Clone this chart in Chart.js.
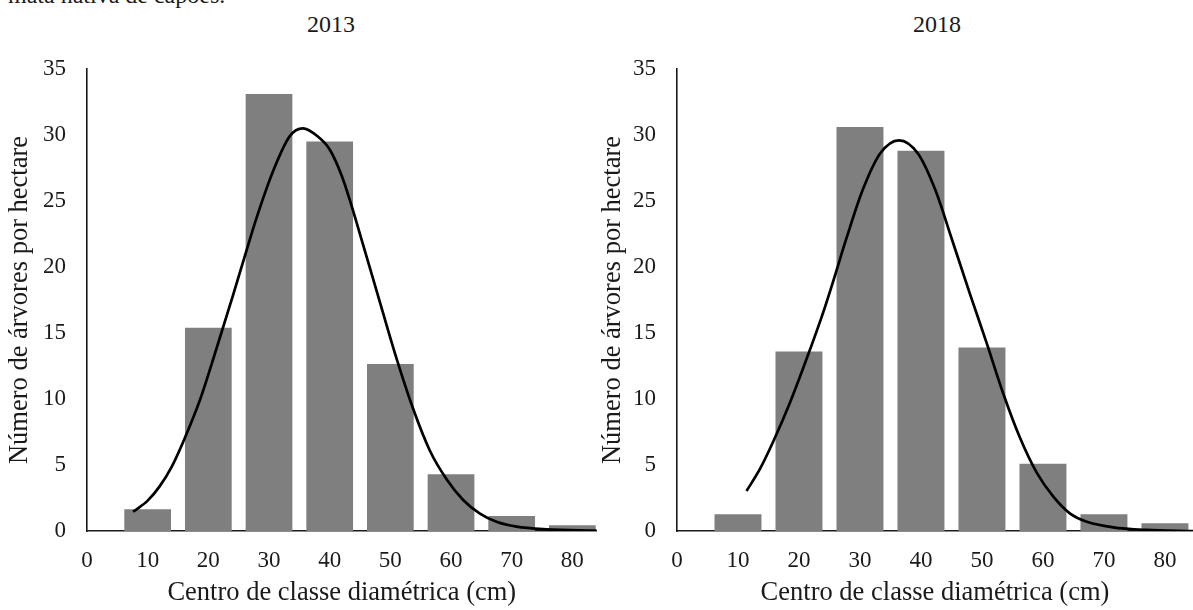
<!DOCTYPE html>
<html>
<head>
<meta charset="utf-8">
<script src="https://cdn.jsdelivr.net/npm/chart.js@4"></script>
<style>
    html, body { margin: 0; padding: 0; background: #fff; overflow: hidden; }
    body { width: 1193px; height: 610px; position: relative; font-family: 'Liberation Serif', serif; color: #1a1a1a; }
    .panel { position: absolute; top: 0; width: 600px; height: 610px; }
    .year { position: absolute; top: 10px; font-size: 24px; line-height: 28px; width: 100px; text-align: center; }
    .caption { position: absolute; left: 8px; top: -19px; font-size: 24px; line-height: 28px; white-space: nowrap; }
</style>
</head>
<body>
<div class="caption">mata nativa de capões.</div>
<div class="year" style="left: 281px;">2013</div>
<div class="year" style="left: 887px;">2018</div>
<div class="panel" style="left: 0px;"><canvas id="cv-2013"></canvas></div>
<div class="panel" style="left: 593px;"><canvas id="cv-2018"></canvas></div>
<script>
// diameter class centres (cm) and trees per hectare
const classes = [10, 20, 30, 40, 50, 60, 70, 80];
const trees2013 = [1.64, 15.4, 33.1, 29.5, 12.65, 4.3, 1.14, 0.43];
const trees2018 = [1.26, 13.6, 30.6, 28.8, 13.9, 5.1, 1.26, 0.58];

// fitted curves
const curveX2013 = [7.6, 10.0, 12.0, 14.0, 15.9, 18.6, 21.4, 24.1, 25.8, 28.0, 30.7, 33.4, 35.6, 38.0, 40.0, 42.0, 43.3, 45.5, 48.3, 51.0, 53.8, 56.5, 59.3, 62.0, 64.7, 67.5, 70.8, 75.7, 84.0];
const curveY2013 = [1.46, 2.3, 3.4, 4.9, 6.8, 9.9, 13.9, 17.9, 20.5, 23.8, 27.3, 29.9, 30.5, 29.9, 28.9, 26.9, 25.1, 21.7, 17.3, 13.1, 9.2, 6.1, 3.9, 2.35, 1.34, 0.7, 0.33, 0.13, 0.03];
const curveX2018 = [11.4, 13.6, 15.8, 18.5, 21.3, 24.0, 25.6, 27.8, 30.5, 33.3, 36.4, 39.5, 42.3, 45.0, 48.0, 50.8, 53.5, 56.2, 59.0, 61.7, 64.4, 67.2, 71.5, 77.0, 84.6];
const curveY2018 = [3.03, 4.7, 6.8, 9.7, 13.1, 16.6, 18.9, 22.2, 25.9, 28.6, 29.6, 28.6, 25.9, 22.2, 18.0, 14.2, 10.4, 7.1, 4.4, 2.6, 1.34, 0.7, 0.28, 0.08, 0];

const xTicks = [0, 10, 20, 30, 40, 50, 60, 70, 80];
const yTicks = [0, 5, 10, 15, 20, 25, 30, 35];

const xTitle = 'Centro de classe diamétrica (cm)';
const yTitle = 'Número de árvores por hectare';

const serif = "'Liberation Serif', 'Times New Roman', serif";
Chart.defaults.font.family = serif;

function makeChart(id, bars, cx, cy, xMax, yWidth, padRight) {
    return new Chart(document.getElementById(id), {
        data: {
            datasets: [{
                type: 'line',
                data: cx.map((x, i) => ({ x: x, y: cy[i] })),
                borderColor: '#000',
                borderWidth: 2.7,
                pointRadius: 0,
                cubicInterpolationMode: 'monotone',
                fill: false
            }, {
                type: 'bar',
                data: classes.map((x, i) => ({ x: x, y: bars[i] })),
                backgroundColor: '#7f7f7f',
                borderWidth: 0,
                barPercentage: 0.77,
                categoryPercentage: 1
            }]
        },
        options: {
            responsive: true,
            maintainAspectRatio: false,
            animation: false,
            layout: { padding: { top: 69, right: padRight, bottom: 0, left: 0 } },
            plugins: { legend: { display: false }, tooltip: { enabled: false } },
            scales: {
                x: {
                    type: 'linear',
                    offset: false,
                    min: 0,
                    max: xMax,
                    afterBuildTicks: s => { s.ticks = xTicks.map(v => ({ value: v })); },
                    afterFit: s => { s.height = 79; },
                    grid: { display: false, drawTicks: false, offset: false },
                    border: { display: true, color: '#1a1a1a', width: 1.6 },
                    ticks: { padding: 16, color: '#1a1a1a', font: { family: serif, size: 23 }, maxRotation: 0 },
                    title: { display: true, text: xTitle, color: '#1a1a1a', font: { family: serif, size: 26.5 }, padding: { top: 0, bottom: 1 } }
                },
                y: {
                    min: 0,
                    max: 35,
                    afterBuildTicks: s => { s.ticks = yTicks.map(v => ({ value: v })); },
                    afterFit: s => { s.width = yWidth; },
                    grid: { display: false, drawTicks: false },
                    border: { display: true, color: '#1a1a1a', width: 1.6 },
                    ticks: { padding: 21, color: '#1a1a1a', font: { family: serif, size: 23 } },
                    title: { display: true, text: yTitle, color: '#1a1a1a', font: { family: serif, size: 26.5 }, padding: { top: 4, bottom: 0 } }
                }
            }
        }
    });
}

function drawAll() {
    makeChart('cv-2013', trees2013, curveX2013, curveY2013, 84, 87, 3);
    makeChart('cv-2018', trees2018, curveX2018, curveY2018, 84.6, 84, 0);
}

if (document.fonts && document.fonts.load) {
    Promise.all([
        document.fonts.load("23px 'Liberation Serif'"),
        document.fonts.load("26.5px 'Liberation Serif'")
    ]).then(drawAll, drawAll);
} else {
    drawAll();
}
</script>
</body>
</html>
